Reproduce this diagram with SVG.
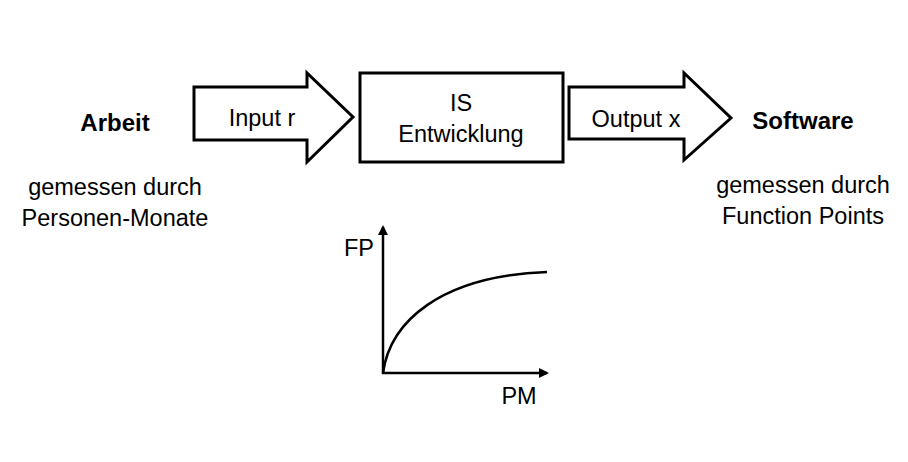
<svg xmlns="http://www.w3.org/2000/svg" width="908" height="462" viewBox="0 0 908 462">
<style>
text{font-family:"Liberation Sans","DejaVu Sans",sans-serif;font-size:23.5px;fill:#000;text-anchor:middle}
.b{font-weight:bold;font-size:24px}
.shape{fill:#fff;stroke:#000;stroke-width:3}
.line{fill:none;stroke:#000;stroke-width:2.5}
</style>
<defs>
<marker id="ah" markerWidth="10" markerHeight="10" refX="8" refY="5" orient="auto" markerUnits="userSpaceOnUse" viewBox="0 0 10 10">
<path d="M0,0 L10,5 L0,10 Z" fill="#000"/>
</marker>
</defs>
<rect width="908" height="462" fill="#fff"/>
<g id="arbeit">
<text class="b" x="115" y="131">Arbeit</text>
<text x="115" y="195">gemessen durch</text>
<text x="115" y="226">Personen-Monate</text>
</g>
<g id="software">
<text class="b" x="803" y="129">Software</text>
<text x="803" y="193">gemessen durch</text>
<text x="803" y="224">Function Points</text>
</g>
<g id="connectors">
<g id="input">
<path class="shape" d="M194,87 H307 V73 L353,117 L307,162 V140 H194 Z"/>
<text x="262" y="126">Input r</text>
</g>
<g id="output">
<path class="shape" d="M569,87 H684 V73 L731,118 L684,160 V139 H569 Z"/>
<text x="636" y="127">Output x</text>
</g>
</g>
<g id="is">
<rect class="shape" x="360" y="73" width="203" height="89"/>
<text x="461" y="111">IS</text>
<text x="461" y="142">Entwicklung</text>
</g>
<g id="graph">
<line class="line" x1="383" y1="374" x2="383" y2="227" marker-end="url(#ah)"/>
<line class="line" x1="382" y1="373" x2="547" y2="373" marker-end="url(#ah)"/>
<path class="line" d="M383,373 C390,322 440,276 547,272"/>
<text x="359" y="256">FP</text>
<text x="519" y="404">PM</text>
</g>
</svg>
